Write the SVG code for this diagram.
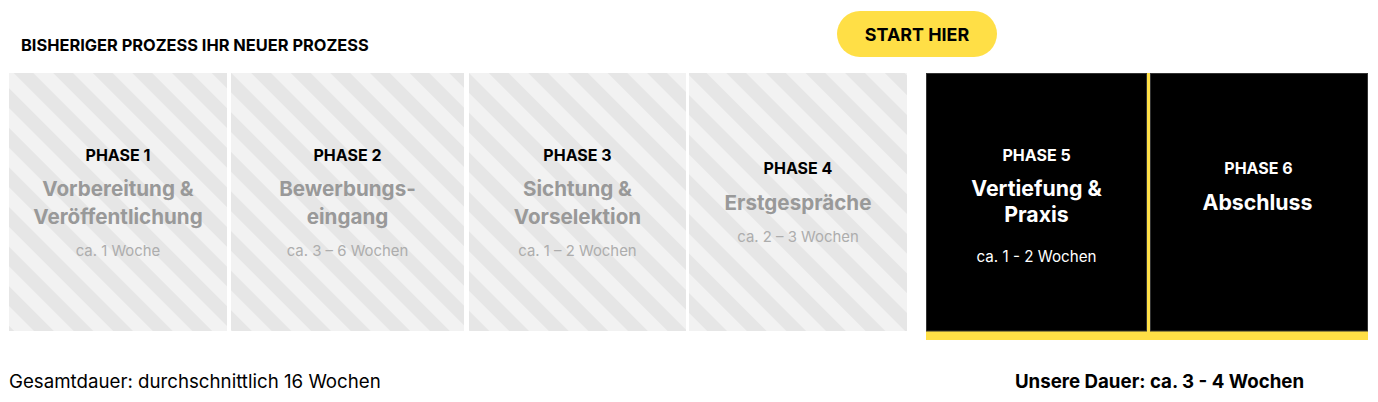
<svg xmlns="http://www.w3.org/2000/svg" width="1378" height="402" viewBox="0 0 1378 402">
  <style>
    text { font-family: Inter, "Liberation Sans", sans-serif; }
    .hdr { font-size: 16.4px; font-weight: 700; fill: #000; }
    .ph { font-size: 16px; font-weight: 700; fill: #000; text-anchor: middle; }
    .phw { font-size: 16px; font-weight: 700; fill: #fff; text-anchor: middle; }
    .tg { font-size: 20.6px; font-weight: 700; fill: #999999; text-anchor: middle; }
    .tw { font-size: 21.3px; font-weight: 700; fill: #fff; text-anchor: middle; }
    .dg { font-size: 14.9px; font-weight: 400; fill: #adadad; text-anchor: middle; }
    .dw { font-size: 15.2px; font-weight: 400; fill: #fff; text-anchor: middle; }
    .old { fill: url(#stripes); }
    .new { fill: #000; stroke: #333; stroke-width: 1; }
  </style>
  <defs>
    <pattern id="stripes" patternUnits="userSpaceOnUse" width="28" height="28" patternTransform="rotate(-45)">
      <rect x="0" y="0" width="14" height="28" fill="#f2f2f2"/>
      <rect x="14" y="0" width="14" height="28" fill="#e6e6e6"/>
    </pattern>
  </defs>
  <rect width="1378" height="402" fill="#fff"/>

  <text class="hdr" x="21" y="51">BISHERIGER PROZESS IHR NEUER PROZESS</text>

  <g id="start">
    <rect x="837" y="11" width="160" height="46" rx="23" fill="#ffdf46"/>
    <text x="917" y="40.5" style="font-size:17.9px;font-weight:700;fill:#000;text-anchor:middle">START HIER</text>
  </g>

  <g id="phase1">
    <rect class="old" x="9" y="73" width="218" height="258"/>
    <text class="ph" x="118" y="161">PHASE 1</text>
    <text class="tg" x="118" y="196">Vorbereitung &amp;</text>
    <text class="tg" x="118" y="224">Veröffentlichung</text>
    <text class="dg" x="118" y="256">ca. 1 Woche</text>
  </g>
  <g id="phase2">
    <rect class="old" x="231" y="73" width="233" height="258"/>
    <text class="ph" x="347.5" y="161">PHASE 2</text>
    <text class="tg" x="347.5" y="196">Bewerbungs-</text>
    <text class="tg" x="347.5" y="224">eingang</text>
    <text class="dg" x="347.5" y="256">ca. 3 – 6 Wochen</text>
  </g>
  <g id="phase3">
    <rect class="old" x="469" y="73" width="217" height="258"/>
    <text class="ph" x="577.5" y="161">PHASE 3</text>
    <text class="tg" x="577.5" y="196">Sichtung &amp;</text>
    <text class="tg" x="577.5" y="224">Vorselektion</text>
    <text class="dg" x="577.5" y="256">ca. 1 – 2 Wochen</text>
  </g>
  <g id="phase4">
    <rect class="old" x="689" y="73" width="218" height="258"/>
    <text class="ph" x="798" y="174">PHASE 4</text>
    <text class="tg" x="798" y="210">Erstgespräche</text>
    <text class="dg" x="798" y="242">ca. 2 – 3 Wochen</text>
  </g>

  <rect x="926" y="331" width="442" height="9" fill="#ffdf46"/>
  <g id="phase5">
    <rect class="new" x="926.5" y="73.5" width="220" height="257.5"/>
    <text class="phw" x="1036.5" y="161">PHASE 5</text>
    <text class="tw" x="1036.5" y="196">Vertiefung &amp;</text>
    <text class="tw" x="1036.5" y="222">Praxis</text>
    <text class="dw" x="1036.5" y="262">ca. 1 - 2 Wochen</text>
  </g>
  <g id="phase6">
    <rect class="new" x="1150.5" y="73.5" width="217" height="257.5"/>
    <text class="phw" x="1258.5" y="174">PHASE 6</text>
    <text class="tw" x="1257.5" y="210">Abschluss</text>
  </g>
  <rect x="1147" y="73" width="3" height="258" fill="#ffdf46"/>

  <text x="9" y="388" style="font-size:18.7px;fill:#000">Gesamtdauer: durchschnittlich 16 Wochen</text>
  <text x="1159.5" y="388" style="font-size:18.7px;font-weight:700;fill:#000;text-anchor:middle">Unsere Dauer: ca. 3 - 4 Wochen</text>
</svg>
